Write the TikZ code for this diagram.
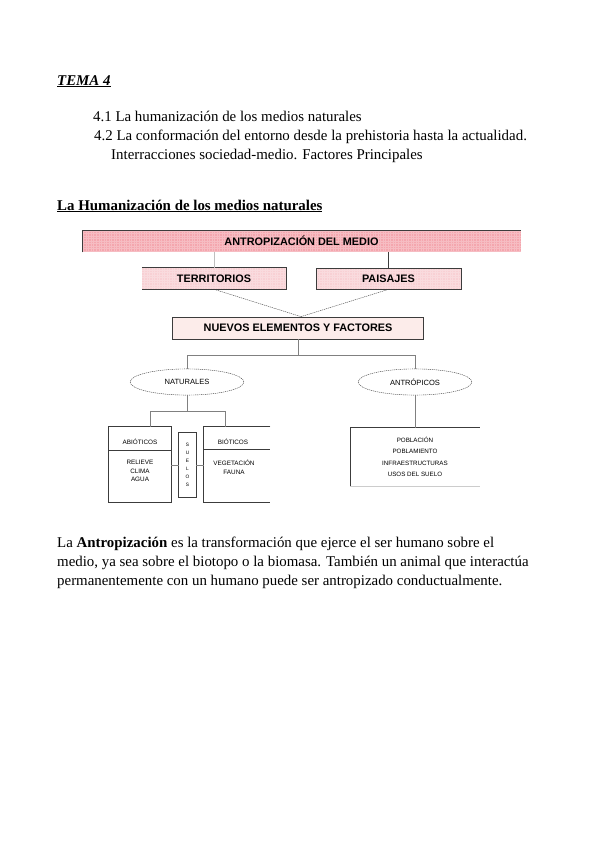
\documentclass[tikz,border=0pt]{standalone}
\usepackage{fontspec}
\setmainfont{Liberation Serif}
\setsansfont{Liberation Sans}
\usepackage{xcolor}
\usepackage{tikz}
\usetikzlibrary{shapes.geometric,positioning}

\definecolor{rosafuerte}{RGB}{244,166,174}
\definecolor{rosamedio}{RGB}{248,208,212}
\definecolor{rosaclaro}{RGB}{252,236,234}
\definecolor{bordegris}{RGB}{60,60,60}

\begin{document}
\begin{tikzpicture}[
    x=0.9934pt, y=-0.9934pt,
    texto/.style={anchor=base west, inner sep=0pt, font=\fontsize{14.8}{17}\selectfont},
    caja/.style={rectangle, inner sep=0pt, font=\sffamily\bfseries\fontsize{10.8}{12}\selectfont},
    rejilla/.style={path picture={\draw[white, opacity=0.25, line width=0.3pt]
        (path picture bounding box.south west) grid[step=2.5pt] (path picture bounding box.north east);}},
    fuerte/.style={caja, fill=rosafuerte, rejilla},
    medio/.style={caja, fill=rosamedio, rejilla},
    claro/.style={caja, fill=rosaclaro, draw=bordegris},
    punteada/.style={draw=bordegris, dash pattern=on 1.2pt off 0.8pt, line width=0.4pt},
    elipse/.style={ellipse, punteada, inner sep=0pt,
        minimum width=113pt, minimum height=26pt, font=\sffamily\fontsize{7.5}{9}\selectfont},
    chica/.style={rectangle, inner sep=0pt, font=\sffamily\fontsize{6.3}{8}\selectfont, align=center},
    linea/.style={draw=gray, line width=0.6pt}
  ]
    \useasboundingbox (0,0) rectangle (599,848);
    \fill[white] (0,0) rectangle (599,848);

    % Encabezado
    \node[texto, font=\fontsize{14.8}{17}\selectfont\bfseries\itshape] (tema) at (57,85) {\underline{TEMA 4}};
    \node[texto] (sub1) at (93,121) {4.1 La humanización de los medios naturales};
    \node[texto] (sub2) at (94,140) {4.2 La conformación del entorno desde la prehistoria hasta la actualidad.};
    \node[texto] (sub3) at (111,159) {Interracciones sociedad-medio. Factores Principales};
    \node[texto, font=\fontsize{14.8}{17}\selectfont\bfseries] (seccion) at (57,210) {\underline{La Humanización de los medios naturales}};

    % Cajas principales
    \node[fuerte, minimum width=436pt, minimum height=22pt] (antropo) at (301.5,241) {ANTROPIZACIÓN DEL MEDIO};
    \draw[bordegris] (antropo.south west) -- (antropo.north west) -- (antropo.north east);
    \node[medio, minimum width=143pt, minimum height=21pt] (territ) at (214,278.5) {TERRITORIOS};
    \draw[bordegris, line width=0.6pt] (territ.north west) -- (territ.north east) -- (territ.south east) -- (territ.south west);
    \node[medio, draw=bordegris, line width=0.6pt, minimum width=144pt, minimum height=21pt] (paisaj) at (388.5,278.5) {PAISAJES};
    \node[claro, line width=0.6pt, minimum width=249pt, minimum height=22pt] (nuevos) at (298,328) {NUEVOS ELEMENTOS Y FACTORES};

    \draw[gray!50, line width=0.8pt] (antropo.south -| territ.north) -- (territ.north);
    \draw[bordegris, line width=0.8pt] (antropo.south -| paisaj.north) -- (paisaj.north);
    \draw[punteada] (territ.south) -- ([xshift=3pt]nuevos.north);
    \draw[punteada] (paisaj.south) -- ([xshift=3pt]nuevos.north);

    % Naturales y antropicos
    \node[elipse] (natur) at (187,382) {NATURALES};
    \node[elipse] (antrop) at (415,382) {ANTRÓPICOS};
    \draw[linea] (nuevos.south) -- ++(0,16) coordinate (nudo);
    \draw[linea] (natur.north) |- (nudo) -| (antrop.north);

    % Abioticos, suelos y bioticos
    \node[chica, minimum width=62pt, minimum height=75pt] (abiot) at (140,464.5) {};
    \node[chica] (abioth) at (140,442) {ABIÓTICOS};
    \node[chica, font=\sffamily\fontsize{6.3}{8.5}\selectfont] (abiotc) at (140,471) {RELIEVE\\CLIMA\\AGUA};
    \draw[bordegris, line width=0.6pt] (abiot.south west) rectangle (abiot.north east);
    \draw[bordegris, line width=0.6pt] (abiot.west |- 0,450) -- (abiot.east |- 0,450);

    \node[chica, font=\sffamily\fontsize{4.8}{8}\selectfont, minimum width=17pt, minimum height=64pt] (suelos) at (187.5,465) {S\\U\\E\\L\\O\\S};
    \draw[bordegris, line width=0.6pt] (suelos.south west) rectangle (suelos.north east);

    \node[chica, minimum width=66pt, minimum height=75pt] (biot) at (237,464.5) {};
    \node[chica] (bioth) at (233,442) {BIÓTICOS};
    \node[chica, font=\sffamily\fontsize{6.3}{9}\selectfont] (biotc) at (234,467) {VEGETACIÓN\\FAUNA};
    \draw[bordegris, line width=0.6pt] (biot.north east) -- (biot.north west) -- (biot.south west) -- (biot.south east);
    \draw[bordegris, line width=0.6pt] (biot.west |- 0,449) -- (biot.east |- 0,449);

    \draw[linea] (natur.south) -- ++(0,16) coordinate (nudob);
    \draw[linea] ([xshift=10pt]abiot.north) |- (nudob) -| ([xshift=-12pt]biot.north);
    \draw[linea] (abiot.east |- suelos.west) -- (suelos.west);
    \draw[linea] (suelos.east) -- (biot.west |- suelos.east);

    % Antropicos
    \node[chica, font=\sffamily\fontsize{6.2}{11.3}\selectfont, minimum width=128pt, minimum height=58pt] (antbox) at (415,457) {POBLACIÓN\\POBLAMIENTO\\INFRAESTRUCTURAS\\USOS DEL SUELO};
    \draw[bordegris, line width=0.6pt] (antbox.south west) -- (antbox.north west) -- (antbox.north east);
    \draw[gray!40, line width=0.4pt] (antbox.south west) -- (antbox.south east);
    \draw[linea] (antrop.south) -- (antbox.north);

    % Parrafo
    \node[anchor=north west, inner sep=0pt, align=left, font=\fontsize{14.8}{19}\selectfont] (parr) at (57,537)
      {La \textbf{Antropización} es la transformación que ejerce el ser humano sobre el\\
       medio, ya sea sobre el biotopo o la biomasa. También un animal que interactúa\\
       permanentemente con un humano puede ser antropizado conductualmente.};
\end{tikzpicture}
\end{document}
